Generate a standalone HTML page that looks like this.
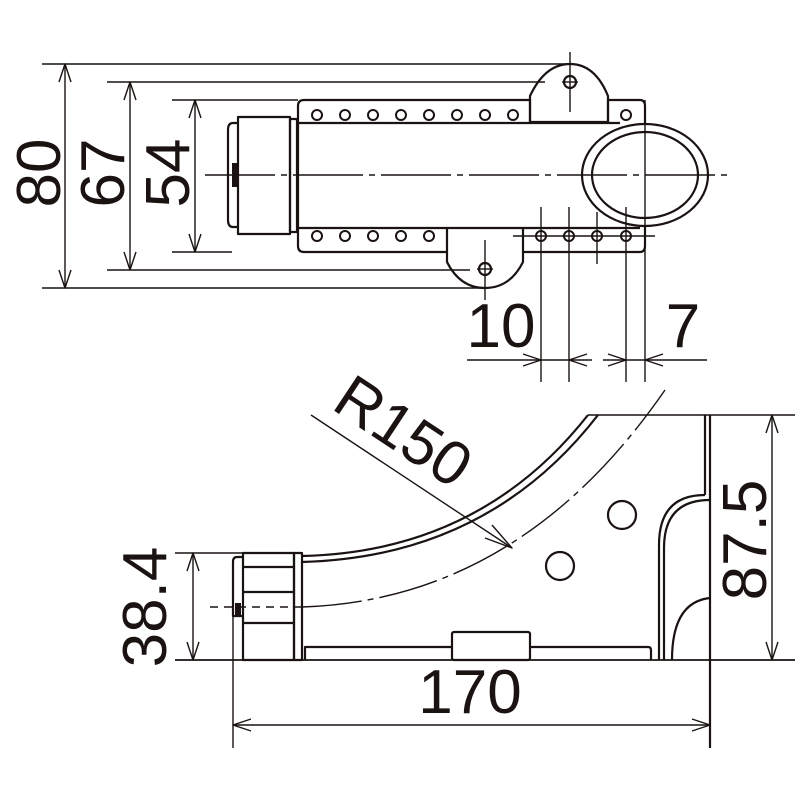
<!DOCTYPE html>
<html><head><meta charset="utf-8"><style>
html,body{margin:0;padding:0;background:#fff}
svg{display:block}
text{font-family:"Liberation Sans",sans-serif;fill:#1a1311}
</style></head><body>
<svg width="800" height="800" viewBox="0 0 800 800" xmlns="http://www.w3.org/2000/svg">
<g fill="none" stroke="#1a1311" stroke-width="2.2" stroke-linejoin="round">
<!-- TOP VIEW dimension extension lines -->
<line x1="42" y1="64" x2="568" y2="64" stroke-width="1.6"/>
<line x1="107" y1="82" x2="545" y2="82" stroke-width="1.6"/>
<line x1="172" y1="100" x2="298" y2="100" stroke-width="1.6"/>
<line x1="172" y1="252" x2="232" y2="252" stroke-width="1.6"/>
<line x1="107" y1="270" x2="470" y2="270" stroke-width="1.6"/>
<line x1="42" y1="288" x2="490" y2="288" stroke-width="1.6"/>
<!-- vertical dim arrows -->
<line x1="65" y1="64" x2="65" y2="288" stroke-width="1.4"/>
<polyline points="59,82 65,64 71,82" stroke-width="1.4"/>
<polyline points="59,270 65,288 71,270" stroke-width="1.4"/>
<line x1="130" y1="82" x2="130" y2="270" stroke-width="1.4"/>
<polyline points="124,100 130,82 136,100" stroke-width="1.4"/>
<polyline points="124,252 130,270 136,252" stroke-width="1.4"/>
<line x1="195" y1="100" x2="195" y2="252" stroke-width="1.4"/>
<polyline points="189,118 195,100 201,118" stroke-width="1.4"/>
<polyline points="189,234 195,252 201,234" stroke-width="1.4"/>

<!-- main body -->
<path d="M298,106 Q298,100 304,100 L530,100 L530,122 L608,122 L608,100 L640,100 Q645,100 645,106 L645,246 Q645,252 640,252 L523,252 L523,228"/>
<path d="M298,106 L298,246 Q298,252 304,252 L447,252 L447,228"/>
<line x1="298" y1="123" x2="620" y2="123"/>
<line x1="298" y1="228" x2="640" y2="228"/>
<!-- top tab -->
<path d="M530,122 L530,96 Q545,64 570,64 Q595,64 608,96 L608,122"/>
<circle cx="570" cy="82" r="6"/>
<line x1="570" y1="52" x2="570" y2="112" stroke-width="1.4"/>
<line x1="562" y1="82" x2="578" y2="82" stroke-width="1.4"/>
<!-- bottom tab -->
<path d="M447,252 L447,262 Q460,288 485,288 Q510,288 523,262 L523,252"/>
<circle cx="485" cy="269" r="6"/>
<line x1="485" y1="240" x2="485" y2="300" stroke-width="1.4"/>
<line x1="477" y1="269" x2="493" y2="269" stroke-width="1.4"/>
<!-- top holes -->
<g stroke-width="2">
<circle cx="317" cy="115" r="5"/><circle cx="345" cy="115" r="5"/><circle cx="373" cy="115" r="5"/><circle cx="401" cy="115" r="5"/><circle cx="429" cy="115" r="5"/><circle cx="457" cy="115" r="5"/><circle cx="485" cy="115" r="5"/><circle cx="513" cy="115" r="5"/><circle cx="626" cy="115" r="5"/>
<circle cx="317" cy="236" r="5"/><circle cx="345" cy="236" r="5"/><circle cx="373" cy="236" r="5"/><circle cx="401" cy="236" r="5"/><circle cx="429" cy="236" r="5"/>
<circle cx="541" cy="236" r="5"/><circle cx="569" cy="236" r="5"/><circle cx="597" cy="236" r="5"/><circle cx="626" cy="236" r="5"/>
</g>
<line x1="513" y1="236" x2="655" y2="236" stroke-width="1.4"/>
<!-- cap -->
<path d="M238,117 L290,117 L290,234 L238,234 Z"/>
<path d="M238,123 L233,123 Q228,123 228,130 L228,220 Q228,227 233,227 L238,227"/>
<rect x="290" y="119" width="7" height="113"/>
<rect x="232" y="163" width="5" height="24" fill="#1a1311" stroke="none"/>
<!-- ring -->
<ellipse cx="645" cy="175" rx="63" ry="51" fill="#fff"/>
<ellipse cx="645" cy="175" rx="53" ry="43"/>
<!-- centerline -->
<line x1="205" y1="175" x2="730" y2="175" stroke-width="1.4" stroke-dasharray="70,6,6,6"/>
<!-- vertical extension lines -->
<line x1="541" y1="207" x2="541" y2="382" stroke-width="1.4"/>
<line x1="569" y1="207" x2="569" y2="382" stroke-width="1.4"/>
<line x1="597" y1="212" x2="597" y2="264" stroke-width="1.4"/>
<line x1="626" y1="207" x2="626" y2="382" stroke-width="1.4"/>
<line x1="645" y1="100" x2="645" y2="382" stroke-width="1.4"/>
<!-- 10 / 7 dims -->
<line x1="467" y1="360" x2="592" y2="360" stroke-width="1.4"/>
<line x1="603" y1="360" x2="707" y2="360" stroke-width="1.4"/>
<polyline points="523,354 541,360 523,366" stroke-width="1.4"/>
<polyline points="587,354 569,360 587,366" stroke-width="1.4"/>
<polyline points="608,354 626,360 608,366" stroke-width="1.4"/>
<polyline points="663,354 645,360 663,366" stroke-width="1.4"/>

<!-- BOTTOM VIEW -->
<line x1="588" y1="415" x2="795" y2="415" stroke-width="1.6"/>
<line x1="175" y1="553" x2="245" y2="553" stroke-width="1.6"/>
<line x1="175" y1="660" x2="795" y2="660" stroke-width="1.8"/>
<line x1="710" y1="415" x2="710" y2="748"/>
<line x1="705" y1="415" x2="705" y2="495"/>
<!-- arcs -->
<path d="M302,556 Q480,552 588,415"/>
<path d="M302,562 Q488,557 598,415"/>
<path d="M302,607 Q520,600 665,390" stroke-width="1.4" stroke-dasharray="60,6,6,6"/>
<!-- right inner -->
<path d="M705,495 Q659,495 659,545 L659,660"/>
<path d="M710,500 Q664,500 664,548 L664,660"/>
<path d="M710,598 Q672,602 672,660"/>
<!-- holes -->
<circle cx="622" cy="515" r="14"/>
<circle cx="560" cy="566" r="14"/>
<!-- base -->
<path d="M305,660 L305,647 L452,647 M530,647 L648,647 Q651,647 651,650 L651,660"/>
<rect x="452" y="632" width="78" height="28" rx="2"/>
<!-- cylinder -->
<rect x="243" y="553" width="51" height="107"/>
<rect x="294" y="553" width="8" height="107"/>
<path d="M243,557 L237,557 Q233,557 233,562 L233,616 L243,616"/>
<rect x="235" y="603" width="6" height="13" fill="#1a1311" stroke="none"/>
<line x1="243" y1="567" x2="294" y2="567"/>
<line x1="243" y1="592" x2="294" y2="592"/>
<line x1="243" y1="623" x2="294" y2="623"/>
<line x1="210" y1="607" x2="302" y2="607" stroke-width="1.4" stroke-dasharray="8,6"/>
<!-- 38.4 dim -->
<line x1="193" y1="553" x2="193" y2="660" stroke-width="1.4"/>
<polyline points="187,571 193,553 199,571" stroke-width="1.4"/>
<polyline points="187,642 193,660 199,642" stroke-width="1.4"/>
<!-- 87.5 dim -->
<line x1="772" y1="415" x2="772" y2="660" stroke-width="1.4"/>
<polyline points="766,433 772,415 778,433" stroke-width="1.4"/>
<polyline points="766,642 772,660 778,642" stroke-width="1.4"/>
<!-- 170 dim -->
<line x1="233" y1="610" x2="233" y2="748" stroke-width="1.4"/>
<line x1="233" y1="725" x2="710" y2="725" stroke-width="1.4"/>
<polyline points="251,719 233,725 251,731" stroke-width="1.4"/>
<polyline points="692,719 710,725 692,731" stroke-width="1.4"/>
<!-- R150 leader -->
<line x1="311" y1="415" x2="512" y2="548" stroke-width="1.4"/>
<polyline points="492,525 512,548 485,538" stroke-width="1.4"/>
</g>
<g font-size="62">
<text transform="translate(60,173) rotate(-90)" text-anchor="middle">80</text>
<text transform="translate(124,173) rotate(-90)" text-anchor="middle">67</text>
<text transform="translate(189,173) rotate(-90)" text-anchor="middle">54</text>
<text x="501" y="347" text-anchor="middle">10</text>
<text x="683" y="347" text-anchor="middle">7</text>
<text transform="translate(330,408) rotate(33.5)">R150</text>
<text transform="translate(166,607) rotate(-90)" text-anchor="middle">38.4</text>
<text transform="translate(766,540) rotate(-90)" text-anchor="middle">87.5</text>
<text x="470" y="713" text-anchor="middle">170</text>
</g>
</svg>
</body></html>
